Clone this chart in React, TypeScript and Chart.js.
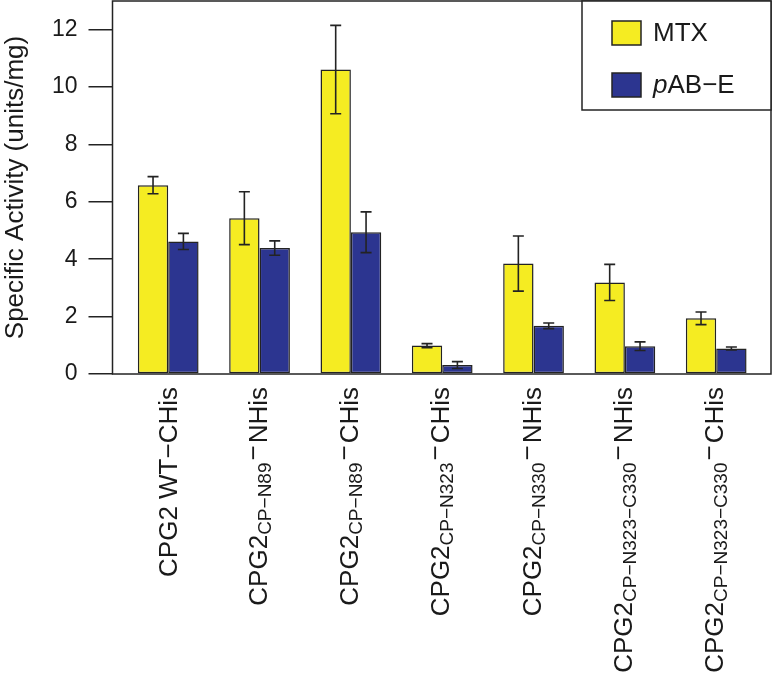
import React, { useEffect, useRef } from 'react';
import { Chart, registerables } from 'chart.js';

Chart.register(...registerables);

// ---- data ----
const categoryMain = ['CPG2 WT\u2212CHis', 'CPG2', 'CPG2', 'CPG2', 'CPG2', 'CPG2', 'CPG2'];
const categorySub = ['', 'CP\u2212N89', 'CP\u2212N89', 'CP\u2212N323', 'CP\u2212N330', 'CP\u2212N323\u2212C330', 'CP\u2212N323\u2212C330'];
const categorySuffix = ['', 'NHis', 'CHis', 'CHis', 'NHis', 'NHis', 'CHis'];
const categoryIndex = [0, 1, 2, 3, 4, 5, 6];

const seriesNames = ['MTX', 'pAB\u2212E'];
const seriesItalicPrefix = ['', 'p'];

const mtxValues = [6.58, 5.43, 10.61, 0.99, 3.85, 3.19, 1.94];
const mtxErrors = [0.30, 0.92, 1.54, 0.07, 0.96, 0.63, 0.22];
const pabValues = [4.62, 4.39, 4.94, 0.31, 1.68, 0.97, 0.89];
const pabErrors = [0.28, 0.25, 0.71, 0.12, 0.10, 0.15, 0.05];

const yTicks = [0, 2, 4, 6, 8, 10, 12];
const yMin = 0;
const yMax = 13;
const yTitle = 'Specific Activity (units/mg)';

const FONT = '"Liberation Sans", Arial, Helvetica, sans-serif';
const INK = '#232323';
const YELLOW = '#F5EC22';
const BLUE = '#2C3590';

const errorsBySeries = [mtxErrors, pabErrors];
const valuesBySeries = [mtxValues, pabValues];
const colorsBySeries = [YELLOW, BLUE];

const errorBarPlugin = {
  id: 'errorBars',
  afterDatasetsDraw(chart: any) {
    const ctx = chart.ctx;
    const yScale = chart.scales.y;
    ctx.save();
    ctx.strokeStyle = INK;
    ctx.lineWidth = 1.6;
    chart.data.datasets.forEach((ds: any, d: number) => {
      const meta = chart.getDatasetMeta(d);
      meta.data.forEach((el: any, i: number) => {
        const v = valuesBySeries[d][i];
        const e = errorsBySeries[d][i];
        const yHi = yScale.getPixelForValue(v + e);
        const yLo = yScale.getPixelForValue(v - e);
        const x = el.x;
        const cap = 5.5;
        ctx.beginPath();
        ctx.moveTo(x, yHi);
        ctx.lineTo(x, yLo);
        ctx.moveTo(x - cap, yHi);
        ctx.lineTo(x + cap, yHi);
        ctx.moveTo(x - cap, yLo);
        ctx.lineTo(x + cap, yLo);
        ctx.stroke();
      });
    });
    ctx.restore();
  },
};

const framePlugin = {
  id: 'frame',
  afterDraw(chart: any) {
    const { ctx, chartArea: a } = chart;
    ctx.save();
    ctx.strokeStyle = INK;
    ctx.lineWidth = 1.5;
    ctx.strokeRect(a.left, a.top, a.right - a.left, a.bottom - a.top);

    // legend box
    const lw = 189;
    const lh = 109;
    const lx = a.right - lw;
    const ly = a.top;
    ctx.fillStyle = '#ffffff';
    ctx.fillRect(lx, ly, lw, lh);
    ctx.strokeRect(lx, ly, lw, lh);
    const rows = [32, 84];
    seriesNames.forEach((name, i) => {
      const cy = ly + rows[i];
      ctx.fillStyle = colorsBySeries[i];
      ctx.fillRect(lx + 30, cy - 12, 29, 24);
      ctx.strokeStyle = INK;
      ctx.lineWidth = 1.5;
      ctx.strokeRect(lx + 30, cy - 12, 29, 24);
      ctx.fillStyle = '#1a1a1a';
      ctx.textBaseline = 'middle';
      ctx.textAlign = 'left';
      let tx = lx + 71;
      const pre = seriesItalicPrefix[i];
      if (pre) {
        ctx.font = `italic 26px ${FONT}`;
        ctx.fillText(pre, tx, cy + 1);
        tx += ctx.measureText(pre).width;
      }
      ctx.font = `26px ${FONT}`;
      ctx.fillText(name.slice(pre.length), tx, cy + 1);
    });

    // category labels (rotated, with subscripts)
    const xScale = chart.scales.x;
    const mainFont = `26px ${FONT}`;
    const subFont = `19px ${FONT}`;
    categoryIndex.forEach((ci) => {
      const cx = xScale.getPixelForValue(ci);
      const main = categoryMain[ci];
      const sub = categorySub[ci];
      const suf = categorySuffix[ci];
      ctx.font = mainFont;
      const wMain = ctx.measureText(main).width;
      ctx.font = subFont;
      const wSub = sub ? ctx.measureText(sub).width : 0;
      ctx.font = mainFont;
      const dash = '\u2212';
      const wDash = suf ? ctx.measureText(dash).width + 4 : 0;
      const wSuf = suf ? ctx.measureText(suf).width : 0;
      const total = wMain + wSub + wDash + wSuf;
      const bx = cx + (sub ? 7 : 8.5);
      ctx.save();
      ctx.translate(bx, a.bottom + 13);
      ctx.rotate(-Math.PI / 2);
      ctx.fillStyle = '#1a1a1a';
      ctx.textAlign = 'left';
      ctx.textBaseline = 'alphabetic';
      let x = -total;
      ctx.font = mainFont;
      ctx.fillText(main, x, 0);
      x += wMain;
      if (sub) {
        ctx.font = subFont;
        ctx.fillText(sub, x, 4);
        x += wSub;
      }
      if (suf) {
        ctx.font = mainFont;
        ctx.fillText(dash, x + 2, -5);
        x += wDash;
        ctx.fillText(suf, x, 0);
      }
      ctx.restore();
    });
    ctx.restore();
  },
};

export default function App() {
  const ref = useRef<HTMLCanvasElement>(null);
  useEffect(() => {
    if (!ref.current) return;
    Chart.defaults.font.family = FONT;
    const chart = new Chart(ref.current, {
      type: 'bar',
      data: {
        datasets: [
          {
            label: seriesNames[0],
            data: categoryIndex.map((i) => ({ x: i, y: mtxValues[i] })),
            backgroundColor: YELLOW,
            borderColor: INK,
            borderWidth: 1.5,
            borderSkipped: false,
            categoryPercentage: 0.665,
            barPercentage: 1.0,
          },
          {
            label: seriesNames[1],
            data: categoryIndex.map((i) => ({ x: i, y: pabValues[i] })),
            backgroundColor: BLUE,
            borderColor: INK,
            borderWidth: 1.5,
            borderSkipped: false,
            categoryPercentage: 0.665,
            barPercentage: 1.0,
          },
        ],
      },
      options: {
        animation: false,
        responsive: false,
        devicePixelRatio: 1,
        layout: { padding: { top: 1, right: 1, left: 0, bottom: 0 } },
        plugins: { legend: { display: false }, tooltip: { enabled: false } },
        scales: {
          x: {
            type: 'linear',
            min: -0.61,
            max: 6.6,
            offset: false,
            grid: { display: false },
            border: { display: false },
            ticks: { display: false },
            afterBuildTicks: (s: any) => {
              s.ticks = categoryIndex.map((v) => ({ value: v }));
            },
            afterFit: (s: any) => {
              s.height = 305;
              s.paddingLeft = 0;
              s.paddingRight = 0;
            },
          },
          y: {
            type: 'linear',
            min: yMin,
            max: yMax,
            grid: {
              display: true,
              drawOnChartArea: false,
              drawTicks: true,
              tickLength: 24,
              color: INK,
              lineWidth: 1.5,
            },
            border: { display: false },
            ticks: {
              color: '#1a1a1a',
              font: { size: 23, family: FONT },
              padding: 11,
            },
            afterBuildTicks: (s: any) => {
              s.ticks = yTicks.map((v) => ({ value: v }));
            },
            title: {
              display: true,
              text: yTitle,
              color: '#1a1a1a',
              font: { size: 26, family: FONT },
              padding: { top: 0, bottom: 0 },
            },
            afterFit: (s: any) => {
              s.width = 112.5;
              s.paddingTop = 0;
              s.paddingBottom = 0;
            },
          },
        },
      },
      plugins: [errorBarPlugin, framePlugin],
    } as any);
    return () => chart.destroy();
  }, []);
  return (
    <div style={{ position: 'fixed', left: 0, top: 0, width: 772, height: 679, background: '#fff' }}>
      <canvas ref={ref} width={772} height={679} style={{ width: 772, height: 679, display: 'block' }} />
    </div>
  );
}
